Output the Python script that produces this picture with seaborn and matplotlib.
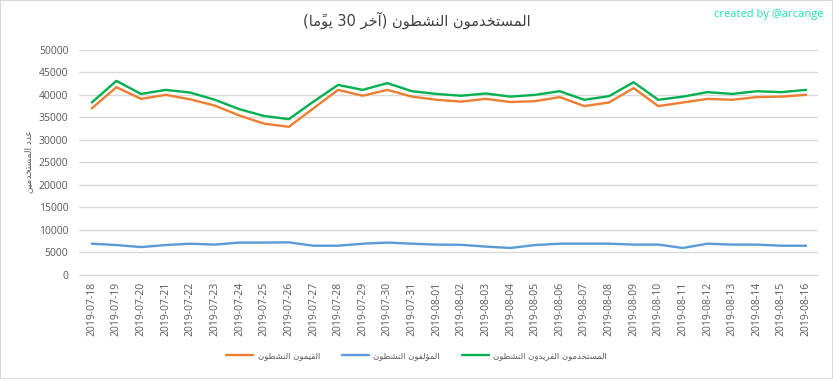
import re

import numpy as np
import pandas as pd
import matplotlib
matplotlib.use('Agg')
import matplotlib.pyplot as plt
from matplotlib.patches import Rectangle
import seaborn as sns

# ----------------------------------------------------------------------
# Data
# ----------------------------------------------------------------------
dates = [
    '2019-07-18', '2019-07-19', '2019-07-20', '2019-07-21', '2019-07-22',
    '2019-07-23', '2019-07-24', '2019-07-25', '2019-07-26', '2019-07-27',
    '2019-07-28', '2019-07-29', '2019-07-30', '2019-07-31', '2019-08-01',
    '2019-08-02', '2019-08-03', '2019-08-04', '2019-08-05', '2019-08-06',
    '2019-08-07', '2019-08-08', '2019-08-09', '2019-08-10', '2019-08-11',
    '2019-08-12', '2019-08-13', '2019-08-14', '2019-08-15', '2019-08-16',
]
curators = [37000, 41700, 39100, 40000, 39000, 37600, 35400, 33600, 32900, 37000,
            41100, 39800, 41100, 39600, 38900, 38500, 39100, 38400, 38600, 39500,
            37500, 38300, 41500, 37500, 38300, 39100, 38900, 39500, 39600, 40000]
authors = [6950, 6650, 6200, 6650, 6950, 6750, 7200, 7200, 7250, 6500,
           6500, 6950, 7200, 6950, 6750, 6700, 6300, 6000, 6650, 6950,
           6950, 6950, 6750, 6750, 6000, 6950, 6750, 6750, 6500, 6500]
unique_users = [38300, 43100, 40200, 41100, 40500, 38900, 36800, 35300, 34600, 38500,
                42200, 41100, 42600, 40800, 40200, 39800, 40300, 39600, 40000, 40800,
                38900, 39700, 42800, 38900, 39600, 40600, 40200, 40800, 40600, 41100]

series_names = ['القيمون النشطون', 'المؤلفون النشطون', 'المستخدمون الفريدون النشطون']
series_colors = ['#ED7D31', '#5B9BD5', '#00B050']
title_text = 'المستخدمون النشطون (آخر 30 يومًا)'
ylabel_text = 'عدد المستخدمين'
y_ticks = [0, 5000, 10000, 15000, 20000, 25000, 30000, 35000, 40000, 45000, 50000]

# ----------------------------------------------------------------------
# Minimal Arabic shaping (matplotlib has no bidi / joining support)
# ----------------------------------------------------------------------
FORMS = {
    'ا': ('\uFE8D', '\uFE8E', None, None),
    'آ': ('\uFE81', '\uFE82', None, None),
    'ت': ('\uFE95', '\uFE96', '\uFE97', '\uFE98'),
    'خ': ('\uFEA5', '\uFEA6', '\uFEA7', '\uFEA8'),
    'د': ('\uFEA9', '\uFEAA', None, None),
    'ر': ('\uFEAD', '\uFEAE', None, None),
    'س': ('\uFEB1', '\uFEB2', '\uFEB3', '\uFEB4'),
    'ش': ('\uFEB5', '\uFEB6', '\uFEB7', '\uFEB8'),
    'ط': ('\uFEC1', '\uFEC2', '\uFEC3', '\uFEC4'),
    'ع': ('\uFEC9', '\uFECA', '\uFECB', '\uFECC'),
    'ف': ('\uFED1', '\uFED2', '\uFED3', '\uFED4'),
    'ق': ('\uFED5', '\uFED6', '\uFED7', '\uFED8'),
    'ل': ('\uFEDD', '\uFEDE', '\uFEDF', '\uFEE0'),
    'م': ('\uFEE1', '\uFEE2', '\uFEE3', '\uFEE4'),
    'ن': ('\uFEE5', '\uFEE6', '\uFEE7', '\uFEE8'),
    'و': ('\uFEED', '\uFEEE', None, None),
    'ؤ': ('\uFE85', '\uFE86', None, None),
    'ي': ('\uFEF1', '\uFEF2', '\uFEF3', '\uFEF4'),
}
MARKS = '\u064B'


def ar(text):
    chars = list(text)
    letters = [i for i, c in enumerate(chars) if c not in MARKS]
    out = list(chars)
    for k, i in enumerate(letters):
        c = chars[i]
        if c not in FORMS:
            continue
        prev = chars[letters[k - 1]] if k > 0 else None
        nxt = chars[letters[k + 1]] if k + 1 < len(letters) else None
        join_prev = prev in FORMS and FORMS[prev][2] is not None
        join_next = FORMS[c][2] is not None and nxt in FORMS
        iso, fin, ini, med = FORMS[c]
        if join_prev and join_next:
            out[i] = med
        elif join_prev:
            out[i] = fin
        elif join_next:
            out[i] = ini
        else:
            out[i] = iso
    clusters = []
    for ch in out:
        if ch in MARKS and clusters:
            clusters[-1] += ch
        else:
            clusters.append(ch)
    s = ''.join(clusters[::-1])
    s = re.sub(r'\d+', lambda m: m.group(0)[::-1], s)
    return s.translate(str.maketrans('()', ')('))


# ----------------------------------------------------------------------
# Plot
# ----------------------------------------------------------------------
sns.set_style('white')
plt.rcParams['font.family'] = ['DejaVu Sans']

df = pd.DataFrame({
    'idx': np.arange(len(dates)),
    series_names[0]: curators,
    series_names[1]: authors,
    series_names[2]: unique_users,
}).melt(id_vars='idx', var_name='series', value_name='value')

fig = plt.figure(figsize=(8.33, 3.79), dpi=100)
ax = fig.add_axes([0.0954, 0.2744, 0.887, 0.5942])

sns.lineplot(
    data=df, x='idx', y='value', hue='series', hue_order=series_names,
    palette=series_colors, linewidth=1.7, legend=False, ax=ax,
)

ax.set_xlim(-0.5, len(dates) - 0.5)
ax.set_ylim(0, 50000)
ax.set_yticks(y_ticks)
ax.set_yticklabels([str(v) for v in y_ticks], family='Open Sans', fontsize=7.5, color='#595959')
ax.set_xticks(np.arange(len(dates)))
ax.set_xticklabels(dates, rotation=90, family='Open Sans', fontsize=7.5, color='#595959')
ax.tick_params(axis='y', length=0, pad=8)
ax.tick_params(axis='x', length=0, pad=5)
ax.grid(axis='y', color='#d9d9d9', linewidth=1)
ax.set_axisbelow(True)
for side in ['left', 'right', 'top']:
    ax.spines[side].set_visible(False)
ax.spines['bottom'].set_color('#d9d9d9')
ax.set_xlabel('')
ax.set_ylabel('')

fig.text(0.034, 0.574, ar(ylabel_text), rotation=90, ha='center', va='center',
         fontsize=6.5, color='#595959')
fig.text(0.5, 0.947, ar(title_text), ha='center', va='center',
         fontsize=10.5, color='#404040')
fig.text(0.988, 0.962, 'created by @arcange', ha='right', va='center',
         family='Open Sans', fontsize=8, color='#1ee3a9')

handles = ax.get_lines()[:3]
fig.legend(handles, [ar(n) for n in series_names], loc='center',
           bbox_to_anchor=(0.5, 0.061), ncol=3, frameon=False,
           fontsize=6.1, labelcolor='#595959', handlelength=3.2,
           handletextpad=0.5, columnspacing=2.6)

fig.patches.append(Rectangle((0, 0), 1, 1, transform=fig.transFigure,
                             fill=False, edgecolor='#d9d9d9', linewidth=1.5))

fig.savefig('out.png', dpi=100)
